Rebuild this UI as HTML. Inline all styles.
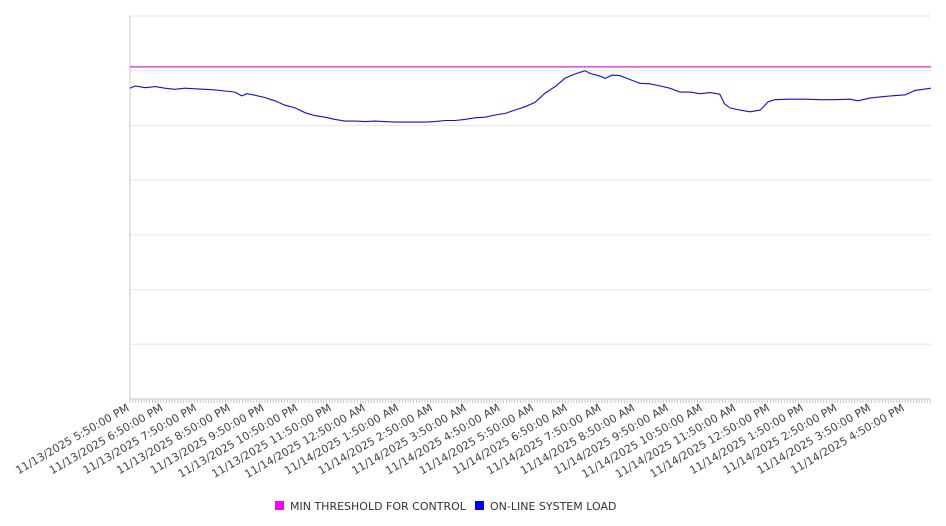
<!DOCTYPE html>
<html><head><meta charset="utf-8"><style>
html,body{margin:0;padding:0;background:#fff;}
svg{display:block;font-family:"DejaVu Sans","Liberation Sans",sans-serif;}
</style></head><body>
<svg id="chart" width="946" height="526"></svg>
<script>
const times=[0,9,27,45,62,80,98,116,134,151,169,187,199,208,223,240,258,276,294,312,329,347,365,383,401,418,436,454,472,490,507,525,543,561,579,596,614,632,650,668,685,703,721,739,757,774,792,810,819,837,846,858,872,890,908,926,944,961,979,997,1015,1033,1050,1058,1068,1086,1104,1122,1136,1148,1175,1202,1228,1255,1282,1296,1317,1344,1380,1398,1426];
const loadValues=[568,572,569,571,568,566,568,567,566,565,563,561,554,558,555,551,545,537,532,523,518,515,511,508,508,507,508,507,506,506,506,506,507,509,509,511,514,515,519,522,528,534,542,559,571,586,594,600,595,590,586,592,591,584,577,576,572,568,561,561,558,560,557,540,532,528,525,528,543,547,548,548,547,547,548,545,550,553,556,564,568];
const thresholdValue=607;
const tickLabels=["11/13/2025 5:50:00 PM","11/13/2025 6:50:00 PM","11/13/2025 7:50:00 PM","11/13/2025 8:50:00 PM","11/13/2025 9:50:00 PM","11/13/2025 10:50:00 PM","11/13/2025 11:50:00 PM","11/14/2025 12:50:00 AM","11/14/2025 1:50:00 AM","11/14/2025 2:50:00 AM","11/14/2025 3:50:00 AM","11/14/2025 4:50:00 AM","11/14/2025 5:50:00 AM","11/14/2025 6:50:00 AM","11/14/2025 7:50:00 AM","11/14/2025 8:50:00 AM","11/14/2025 9:50:00 AM","11/14/2025 10:50:00 AM","11/14/2025 11:50:00 AM","11/14/2025 12:50:00 PM","11/14/2025 1:50:00 PM","11/14/2025 2:50:00 PM","11/14/2025 3:50:00 PM","11/14/2025 4:50:00 PM"];
const yGridValues=[0,100,200,300,400,500,600,700];

const NS="http://www.w3.org/2000/svg";
const svg=document.getElementById('chart');
const L=130,R=931,T=16,B=399,TMAX=1426,VMAX=700;
const x=t=>L+(t/TMAX)*(R-L);
const y=v=>B-(v/VMAX)*(B-T);
function mk(tag,attrs){const e=document.createElementNS(NS,tag);for(const k in attrs)e.setAttribute(k,attrs[k]);svg.appendChild(e);return e;}

yGridValues.forEach(v=>{
  const g=mk('line',{x1:L,x2:R,y1:y(v),y2:y(v),stroke:'#e6e6e6','stroke-width':1});
  
  
});
const ax=mk('line',{x1:L,x2:L,y1:T,y2:B,stroke:'#c8c8c8','stroke-width':1});


const bx=mk('line',{x1:L,x2:R,y1:B,y2:B,stroke:'#c8c8c8','stroke-width':1});


for(let t=0;t<=TMAX;t+=5){
  const tk=mk('line',{x1:x(t),x2:x(t),y1:B,y2:B+4,stroke:'#c8c8c8','stroke-width':1});
  
  
}
tickLabels.forEach((lab,i)=>{
  const tx=x(i*60),ty=B+11;
  const t=mk('text',{x:tx,y:ty,'font-size':'11','fill':'#444','text-anchor':'end',transform:`rotate(-30 ${tx} ${ty})`});
  t.textContent=lab;
  
  
});
const th=mk('line',{x1:L,x2:R,y1:y(thresholdValue),y2:y(thresholdValue),stroke:'#e020e0','stroke-width':1.2});


const pts=times.map((t,i)=>x(t).toFixed(1)+','+y(loadValues[i]).toFixed(1)).join(' ');
const pl=mk('polyline',{points:pts,fill:'none',stroke:'#1010d0','stroke-width':1.1});



const lg=[["MIN THRESHOLD FOR CONTROL","#ff00ff",275],["ON-LINE SYSTEM LOAD","#0000ff",475]];
lg.forEach(([txt,c,lx])=>{
  const r=mk('rect',{x:lx,y:501,width:9,height:9,fill:c});
  
  
  const t=mk('text',{x:lx+15,y:510,'font-size':'11',fill:'#333'});
  t.textContent=txt;
  
  
});
</script>
</body></html>
